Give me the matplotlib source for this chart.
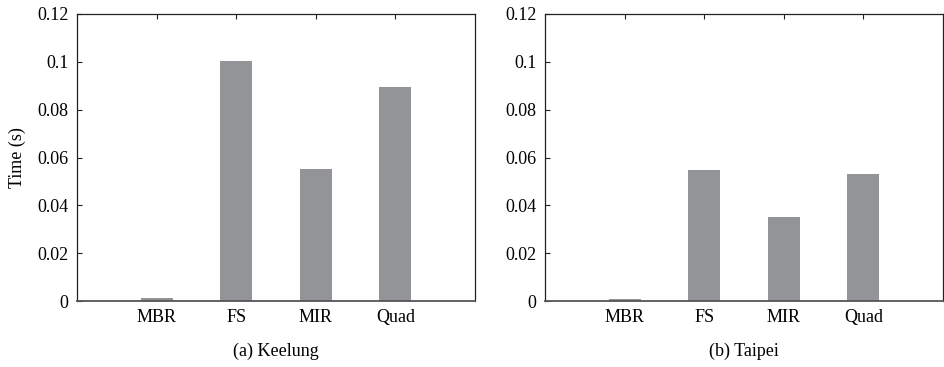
import matplotlib
matplotlib.use("Agg")
import matplotlib.pyplot as plt
import numpy as np

categories = ["MBR", "FS", "MIR", "Quad"]
keelung = [0.0013, 0.1002, 0.0551, 0.0895]
taipei = [0.0009, 0.0548, 0.0352, 0.0532]
captions = ["(a) Keelung", "(b) Taipei"]
yticks = [0, 0.02, 0.04, 0.06, 0.08, 0.1, 0.12]
ytick_labels = ["0", "0.02", "0.04", "0.06", "0.08", "0.1", "0.12"]

plt.rcParams['font.family'] = ['Liberation Serif', 'DejaVu Serif']
W, H = 944, 367
fig = plt.figure(figsize=(W / 100, H / 100), dpi=100)

bar_color = "#939498"
positions = [(77, 475), (545, 943)]
top, bottom = 14, 301

for (x0, x1), vals, cap, idx in zip(positions, [keelung, taipei], captions, range(2)):
    ax = fig.add_axes([x0 / W, 1 - bottom / H, (x1 - x0) / W, (bottom - top) / H])
    x = np.arange(1, len(categories) + 1)
    ax.bar(x, vals, width=0.4, color=bar_color, zorder=2)
    ax.set_xlim(0, 5)
    ax.set_ylim(0, 0.12)
    ax.set_xticks(x)
    ax.set_xticklabels(categories, fontsize=13)
    ax.set_yticks(yticks)
    ax.set_yticklabels(ytick_labels, fontsize=13)
    ax.tick_params(axis="y", direction="in", left=True, right=False, length=3.5, width=0.8, color="#222222", pad=6)
    ax.tick_params(axis="x", direction="in", bottom=False, top=True, length=3.5, width=0.8, color="#222222", pad=6)
    for s in ax.spines.values():
        s.set_linewidth(0.9)
        s.set_color("#222222")
    ax.spines["bottom"].set_linewidth(1.3)
    ax.spines["bottom"].set_color("#555555")
    if idx == 0:
        ax.set_ylabel("Time (s)", fontsize=13, labelpad=8)
    ax.text(0.5, -0.145, cap, transform=ax.transAxes, ha="center", va="top", fontsize=13)

fig.savefig("out.png", dpi=100)
